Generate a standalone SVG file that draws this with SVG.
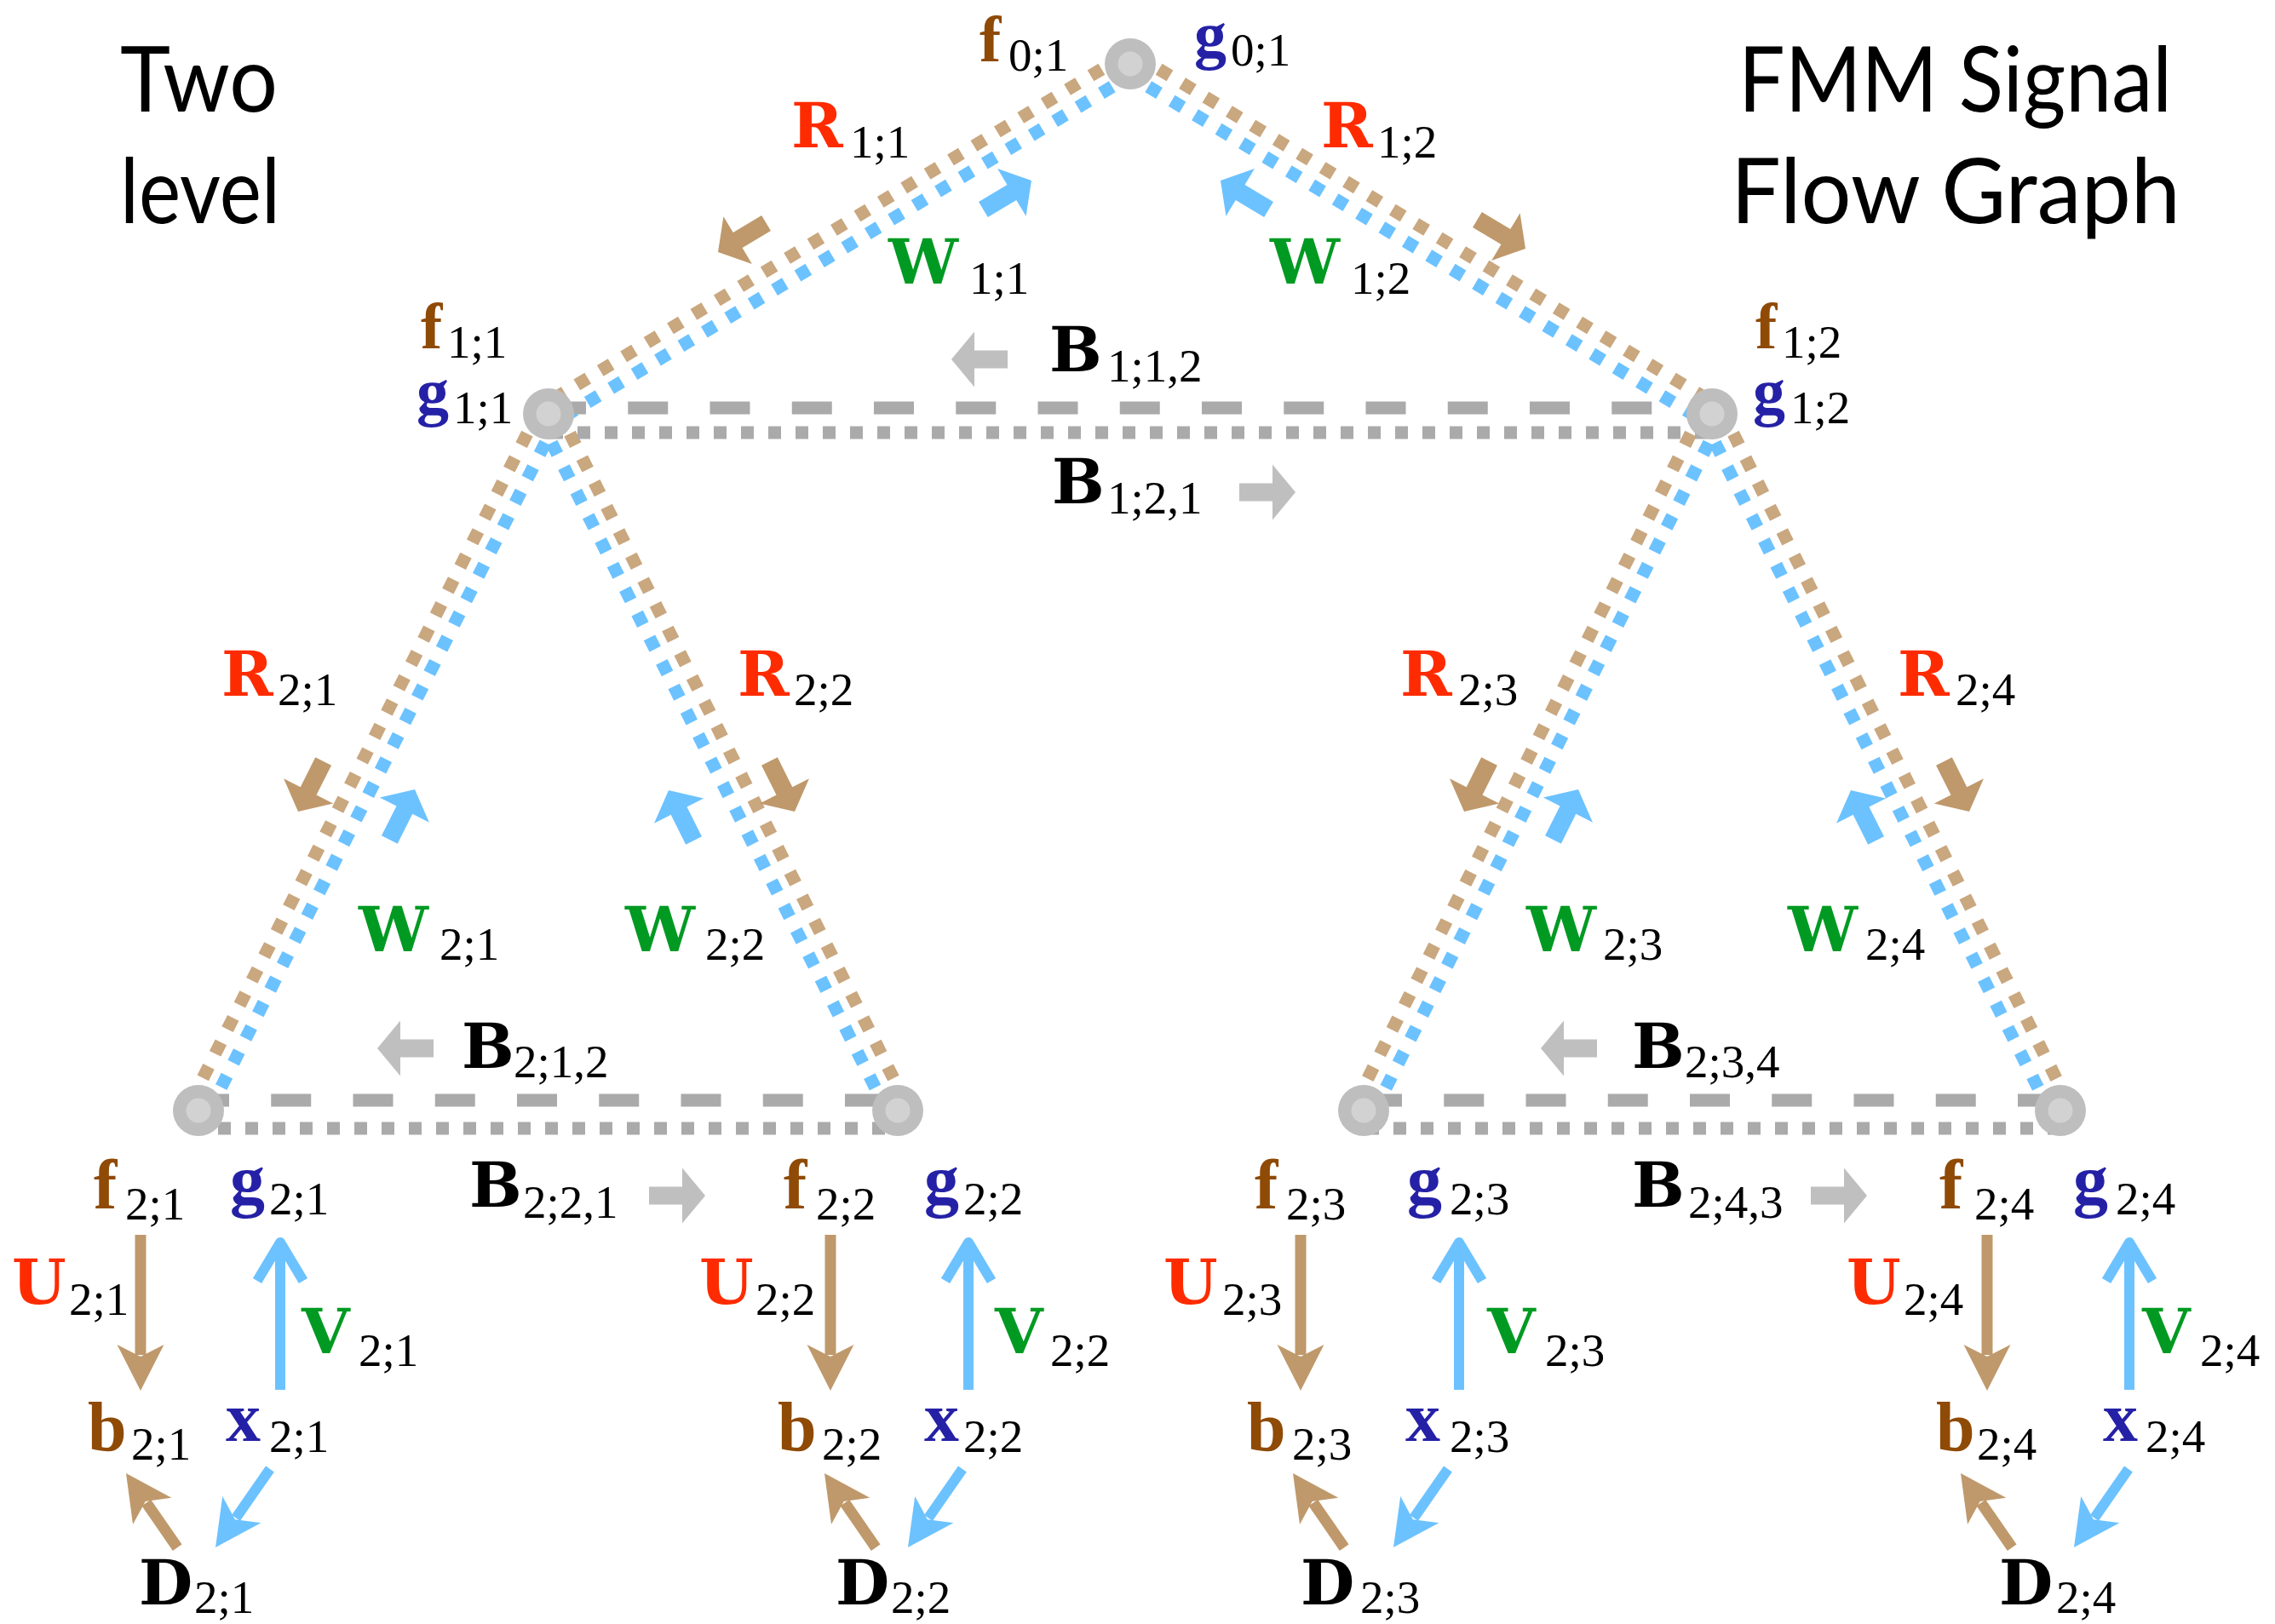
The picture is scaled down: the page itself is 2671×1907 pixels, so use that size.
<svg xmlns="http://www.w3.org/2000/svg" xmlns:xlink="http://www.w3.org/1999/xlink" width="2671" height="1907" viewBox="0 0 2671 1907">
<style>
.bg{fill:#ffffff}
.dotb{fill:none;stroke:#c9a77f;stroke-width:15;stroke-dasharray:15 17}
.dotu{fill:none;stroke:#6cc2ff;stroke-width:15;stroke-dasharray:15 17}
.gdash{fill:none;stroke:#aaaaaa;stroke-width:15;stroke-dasharray:47 49.25}
.gdot{fill:none;stroke:#aaaaaa;stroke-width:15;stroke-dasharray:15 17}
.brn{fill:#bf996b}
.blu{fill:#6cc2ff}
.gry{fill:#bfbfbf}
.shb{stroke:#bf996b;stroke-width:13;fill:none}
.shu{stroke:#6cc2ff;stroke-width:12;fill:none}
.chev{stroke:#6cc2ff;stroke-width:12;fill:none;stroke-linejoin:round}
.nodeO{fill:#bebebe}
.nodeI{fill:#d2d2d2}
.t{font-family:"Liberation Serif","DejaVu Serif",serif}
.L{font-size:82px;font-weight:bold}
.N{font-size:76px;font-weight:bold}
.C{font-family:"DejaVu Serif","Liberation Serif",serif;font-size:73px;font-weight:bold}
.s{font-size:55px;fill:#000000}
.cf{fill:#8f4a06}
.cg{fill:#2521a6}
.cr{fill:#ff2b00}
.cw{fill:#009a22}
.ck{fill:#000000}
.title{font-family:Lato,"Open Sans","Liberation Sans",sans-serif;font-size:107px;fill:#000000}
</style>
<defs>
<path id="ba" d="M0,0 L-27,-32.5 L-27,-10.5 L-66,-10.5 L-66,10.5 L-27,10.5 L-27,32.5 Z"/>
<path id="st" d="M0,0 L-54,-27.5 L-40,0 L-54,27.5 Z"/>
</defs>
<rect class="bg" x="0" y="0" width="2671" height="1907"/>

<g id="titles">
<text class="title" x="141" y="131" textLength="185" lengthAdjust="spacingAndGlyphs">Two</text>
<text class="title" x="141" y="262" textLength="188" lengthAdjust="spacingAndGlyphs">level</text>
<text class="title" x="2041" y="131" textLength="509" lengthAdjust="spacingAndGlyphs">FMM Signal</text>
<text class="title" x="2032" y="262" textLength="528" lengthAdjust="spacingAndGlyphs">Flow Graph</text>
</g>

<g id="connectors">
<line class="dotb" x1="1320.8" y1="64.7" x2="637.8" y2="475.7"/>
<line class="dotu" x1="1333.2" y1="85.3" x2="650.2" y2="496.3"/>
<line class="dotb" x1="1333.2" y1="64.7" x2="2016.2" y2="475.7"/>
<line class="dotu" x1="1320.8" y1="85.3" x2="2003.8" y2="496.3"/>
<line class="dotb" x1="633.3" y1="480.6" x2="222.3" y2="1297.6"/>
<line class="dotu" x1="654.7" y1="491.4" x2="243.7" y2="1308.4"/>
<line class="dotb" x1="654.7" y1="480.6" x2="1064.7" y2="1297.6"/>
<line class="dotu" x1="633.3" y1="491.4" x2="1043.3" y2="1308.4"/>
<line class="dotb" x1="1999.3" y1="480.6" x2="1590.3" y2="1297.6"/>
<line class="dotu" x1="2020.7" y1="491.4" x2="1611.7" y2="1308.4"/>
<line class="dotb" x1="2020.7" y1="480.6" x2="2429.7" y2="1297.6"/>
<line class="dotu" x1="1999.3" y1="491.4" x2="2408.3" y2="1308.4"/>
<line class="gdash" x1="641" y1="479" x2="2010" y2="479"/>
<line class="gdot" x1="646" y1="508" x2="2010" y2="508"/>
<line class="gdash" x1="222" y1="1292" x2="1054" y2="1292"/>
<line class="gdot" x1="224" y1="1325" x2="1054" y2="1325"/>
<line class="gdash" x1="1599" y1="1292" x2="2419" y2="1292"/>
<line class="gdot" x1="1604" y1="1325" x2="2419" y2="1325"/>
</g>

<g id="nodes">
<g id="n01"><circle class="nodeO" cx="1327" cy="75" r="30"/><circle class="nodeI" cx="1327" cy="75" r="14.5"/></g>
<g id="n11"><circle class="nodeO" cx="644" cy="486" r="30"/><circle class="nodeI" cx="644" cy="486" r="14.5"/></g>
<g id="n12"><circle class="nodeO" cx="2010" cy="486" r="30"/><circle class="nodeI" cx="2010" cy="486" r="14.5"/></g>
<g id="n21"><circle class="nodeO" cx="233" cy="1304" r="30"/><circle class="nodeI" cx="233" cy="1304" r="14.5"/></g>
<g id="n22"><circle class="nodeO" cx="1054" cy="1304" r="30"/><circle class="nodeI" cx="1054" cy="1304" r="14.5"/></g>
<g id="n23"><circle class="nodeO" cx="1601" cy="1304" r="30"/><circle class="nodeI" cx="1601" cy="1304" r="14.5"/></g>
<g id="n24"><circle class="nodeO" cx="2419" cy="1304" r="30"/><circle class="nodeI" cx="2419" cy="1304" r="14.5"/></g>
</g>

<g id="flow-arrows">
<use href="#ba" class="brn" transform="translate(843,296) rotate(149)"/>
<use href="#ba" class="blu" transform="translate(1211,212) rotate(-31)"/>
<use href="#ba" class="blu" transform="translate(1433,212) rotate(211)"/>
<use href="#ba" class="brn" transform="translate(1791,292) rotate(31)"/>
<use href="#ba" class="brn" transform="translate(350,953) rotate(116.7)"/>
<use href="#ba" class="blu" transform="translate(487,927) rotate(-63.3)"/>
<use href="#ba" class="blu" transform="translate(785,928) rotate(-116.6)"/>
<use href="#ba" class="brn" transform="translate(933,953) rotate(63.4)"/>
<use href="#ba" class="brn" transform="translate(1719,953) rotate(116.6)"/>
<use href="#ba" class="blu" transform="translate(1853,927) rotate(-63.4)"/>
<use href="#ba" class="blu" transform="translate(2173,928) rotate(-116.6)"/>
<use href="#ba" class="brn" transform="translate(2312,953) rotate(63.4)"/>
<use href="#ba" class="gry" transform="translate(1117,422) rotate(180)"/>
<use href="#ba" class="gry" transform="translate(1521,578)"/>
<use href="#ba" class="gry" transform="translate(443,1231) rotate(180)"/>
<use href="#ba" class="gry" transform="translate(828,1404)"/>
<use href="#ba" class="gry" transform="translate(1809,1231) rotate(180)"/>
<use href="#ba" class="gry" transform="translate(2192,1404)"/>
</g>

<g id="leaf-arrows">
<g transform="translate(165,1633) rotate(90)"><line class="shb" x1="-183" y1="0" x2="-42" y2="0"/><use href="#st" class="brn"/></g>
<g transform="translate(329,1453) rotate(-90)"><line class="shu" x1="-179" y1="0" x2="-6" y2="0"/><polyline class="chev" points="-51,-27 -6,0 -51,27"/></g>
<g transform="translate(148,1730) rotate(-124.6)"><line class="shb" x1="-106" y1="0" x2="-42" y2="0"/><use href="#st" class="brn"/></g>
<g transform="translate(253,1817) rotate(124.8)"><line class="shu" x1="-112" y1="0" x2="-42" y2="0"/><use href="#st" class="blu"/></g>
<g transform="translate(975,1633) rotate(90)"><line class="shb" x1="-183" y1="0" x2="-42" y2="0"/><use href="#st" class="brn"/></g>
<g transform="translate(1137,1453) rotate(-90)"><line class="shu" x1="-179" y1="0" x2="-6" y2="0"/><polyline class="chev" points="-51,-27 -6,0 -51,27"/></g>
<g transform="translate(968,1730) rotate(-124.6)"><line class="shb" x1="-106" y1="0" x2="-42" y2="0"/><use href="#st" class="brn"/></g>
<g transform="translate(1066,1817) rotate(124.8)"><line class="shu" x1="-112" y1="0" x2="-42" y2="0"/><use href="#st" class="blu"/></g>
<g transform="translate(1527,1633) rotate(90)"><line class="shb" x1="-183" y1="0" x2="-42" y2="0"/><use href="#st" class="brn"/></g>
<g transform="translate(1713,1453) rotate(-90)"><line class="shu" x1="-179" y1="0" x2="-6" y2="0"/><polyline class="chev" points="-51,-27 -6,0 -51,27"/></g>
<g transform="translate(1518,1730) rotate(-124.6)"><line class="shb" x1="-106" y1="0" x2="-42" y2="0"/><use href="#st" class="brn"/></g>
<g transform="translate(1636,1817) rotate(124.8)"><line class="shu" x1="-112" y1="0" x2="-42" y2="0"/><use href="#st" class="blu"/></g>
<g transform="translate(2333,1633) rotate(90)"><line class="shb" x1="-183" y1="0" x2="-42" y2="0"/><use href="#st" class="brn"/></g>
<g transform="translate(2500,1453) rotate(-90)"><line class="shu" x1="-179" y1="0" x2="-6" y2="0"/><polyline class="chev" points="-51,-27 -6,0 -51,27"/></g>
<g transform="translate(2302,1730) rotate(-124.6)"><line class="shb" x1="-106" y1="0" x2="-42" y2="0"/><use href="#st" class="brn"/></g>
<g transform="translate(2435,1817) rotate(124.8)"><line class="shu" x1="-112" y1="0" x2="-42" y2="0"/><use href="#st" class="blu"/></g>
</g>

<g id="node-labels" class="t">
<text><tspan class="N cf" x="1150" y="72">f</tspan><tspan class="s" x="1184" y="83">0;1</tspan></text>
<text><tspan class="N cg" x="1402" y="67">g</tspan><tspan class="s" x="1445" y="77">0;1</tspan></text>
<text><tspan class="N cf" x="494" y="409">f</tspan><tspan class="s" x="525" y="420">1;1</tspan></text>
<text><tspan class="N cg" x="489" y="486">g</tspan><tspan class="s" x="532" y="497">1;1</tspan></text>
<text><tspan class="N cf" x="2061" y="409">f</tspan><tspan class="s" x="2092" y="420">1;2</tspan></text>
<text><tspan class="N cg" x="2058" y="486">g</tspan><tspan class="s" x="2102" y="497">1;2</tspan></text>
</g>

<g id="edge-labels" class="t">
<text><tspan class="C cr" x="929" y="173">R</tspan><tspan class="s" x="998" y="185">1;1</tspan></text>
<text><tspan class="C cr" x="1551" y="173">R</tspan><tspan class="s" x="1617" y="185">1;2</tspan></text>
<text><tspan class="C cw" x="1043" y="333">W</tspan><tspan class="s" x="1138" y="345">1;1</tspan></text>
<text><tspan class="C cw" x="1491" y="333">W</tspan><tspan class="s" x="1586" y="345">1;2</tspan></text>
<text><tspan class="C ck" x="1232" y="436">B</tspan><tspan class="s" x="1300" y="448">1;1,2</tspan></text>
<text><tspan class="C ck" x="1235" y="591">B</tspan><tspan class="s" x="1300" y="603">1;2,1</tspan></text>
<text><tspan class="C cr" x="260" y="817">R</tspan><tspan class="s" x="326" y="828">2;1</tspan></text>
<text><tspan class="C cr" x="866" y="817">R</tspan><tspan class="s" x="932" y="828">2;2</tspan></text>
<text><tspan class="C cr" x="1644" y="817">R</tspan><tspan class="s" x="1712" y="828">2;3</tspan></text>
<text><tspan class="C cr" x="2228" y="817">R</tspan><tspan class="s" x="2296" y="828">2;4</tspan></text>
<text><tspan class="C cw" x="421" y="1117">W</tspan><tspan class="s" x="516" y="1127">2;1</tspan></text>
<text><tspan class="C cw" x="734" y="1117">W</tspan><tspan class="s" x="828" y="1127">2;2</tspan></text>
<text><tspan class="C cw" x="1792" y="1117">W</tspan><tspan class="s" x="1882" y="1127">2;3</tspan></text>
<text><tspan class="C cw" x="2099" y="1117">W</tspan><tspan class="s" x="2190" y="1127">2;4</tspan></text>
<text><tspan class="C ck" x="542" y="1254">B</tspan><tspan class="s" x="603" y="1265">2;1,2</tspan></text>
<text><tspan class="C ck" x="551" y="1417">B</tspan><tspan class="s" x="614" y="1430">2;2,1</tspan></text>
<text><tspan class="C ck" x="1916" y="1254">B</tspan><tspan class="s" x="1978" y="1265">2;3,4</tspan></text>
<text><tspan class="C ck" x="1916" y="1417">B</tspan><tspan class="s" x="1982" y="1430">2;4,3</tspan></text>
<text><tspan class="C cr" x="14" y="1531">U</tspan><tspan class="s" x="81" y="1544">2;1</tspan></text>
<text><tspan class="C cw" x="354" y="1589">V</tspan><tspan class="s" x="421" y="1604">2;1</tspan></text>
<text><tspan class="C cr" x="821" y="1531">U</tspan><tspan class="s" x="887" y="1544">2;2</tspan></text>
<text><tspan class="C cw" x="1168" y="1589">V</tspan><tspan class="s" x="1233" y="1604">2;2</tspan></text>
<text><tspan class="C cr" x="1366" y="1531">U</tspan><tspan class="s" x="1435" y="1544">2;3</tspan></text>
<text><tspan class="C cw" x="1746" y="1589">V</tspan><tspan class="s" x="1814" y="1604">2;3</tspan></text>
<text><tspan class="C cr" x="2168" y="1531">U</tspan><tspan class="s" x="2235" y="1544">2;4</tspan></text>
<text><tspan class="C cw" x="2515" y="1589">V</tspan><tspan class="s" x="2583" y="1604">2;4</tspan></text>
</g>

<g id="leaf1" class="t">
<text><tspan class="L cf" x="110" y="1419">f</tspan><tspan class="s" x="147" y="1432">2;1</tspan></text>
<text><tspan class="L cg" x="270" y="1413">g</tspan><tspan class="s" x="316" y="1426">2;1</tspan></text>
<text><tspan class="L cf" x="103" y="1703">b</tspan><tspan class="s" x="154" y="1714">2;1</tspan></text>
<text><tspan class="L cg" x="265" y="1692">x</tspan><tspan class="s" x="316" y="1705">2;1</tspan></text>
<text><tspan class="C ck" x="163" y="1884">D</tspan><tspan class="s" x="228" y="1894">2;1</tspan></text>
</g>
<g id="leaf2" class="t">
<text><tspan class="L cf" x="920" y="1419">f</tspan><tspan class="s" x="958" y="1432">2;2</tspan></text>
<text><tspan class="L cg" x="1085" y="1413">g</tspan><tspan class="s" x="1131" y="1426">2;2</tspan></text>
<text><tspan class="L cf" x="913" y="1703">b</tspan><tspan class="s" x="965" y="1714">2;2</tspan></text>
<text><tspan class="L cg" x="1085" y="1692">x</tspan><tspan class="s" x="1131" y="1705">2;2</tspan></text>
<text><tspan class="C ck" x="981" y="1884">D</tspan><tspan class="s" x="1046" y="1894">2;2</tspan></text>
</g>
<g id="leaf3" class="t">
<text><tspan class="L cf" x="1473" y="1419">f</tspan><tspan class="s" x="1510" y="1432">2;3</tspan></text>
<text><tspan class="L cg" x="1652" y="1413">g</tspan><tspan class="s" x="1702" y="1426">2;3</tspan></text>
<text><tspan class="L cf" x="1464" y="1703">b</tspan><tspan class="s" x="1517" y="1714">2;3</tspan></text>
<text><tspan class="L cg" x="1650" y="1692">x</tspan><tspan class="s" x="1702" y="1705">2;3</tspan></text>
<text><tspan class="C ck" x="1527" y="1884">D</tspan><tspan class="s" x="1597" y="1894">2;3</tspan></text>
</g>
<g id="leaf4" class="t">
<text><tspan class="L cf" x="2277" y="1419">f</tspan><tspan class="s" x="2318" y="1432">2;4</tspan></text>
<text><tspan class="L cg" x="2434" y="1413">g</tspan><tspan class="s" x="2484" y="1426">2;4</tspan></text>
<text><tspan class="L cf" x="2273" y="1703">b</tspan><tspan class="s" x="2321" y="1714">2;4</tspan></text>
<text><tspan class="L cg" x="2469" y="1692">x</tspan><tspan class="s" x="2519" y="1705">2;4</tspan></text>
<text><tspan class="C ck" x="2347" y="1884">D</tspan><tspan class="s" x="2414" y="1894">2;4</tspan></text>
</g>
</svg>
